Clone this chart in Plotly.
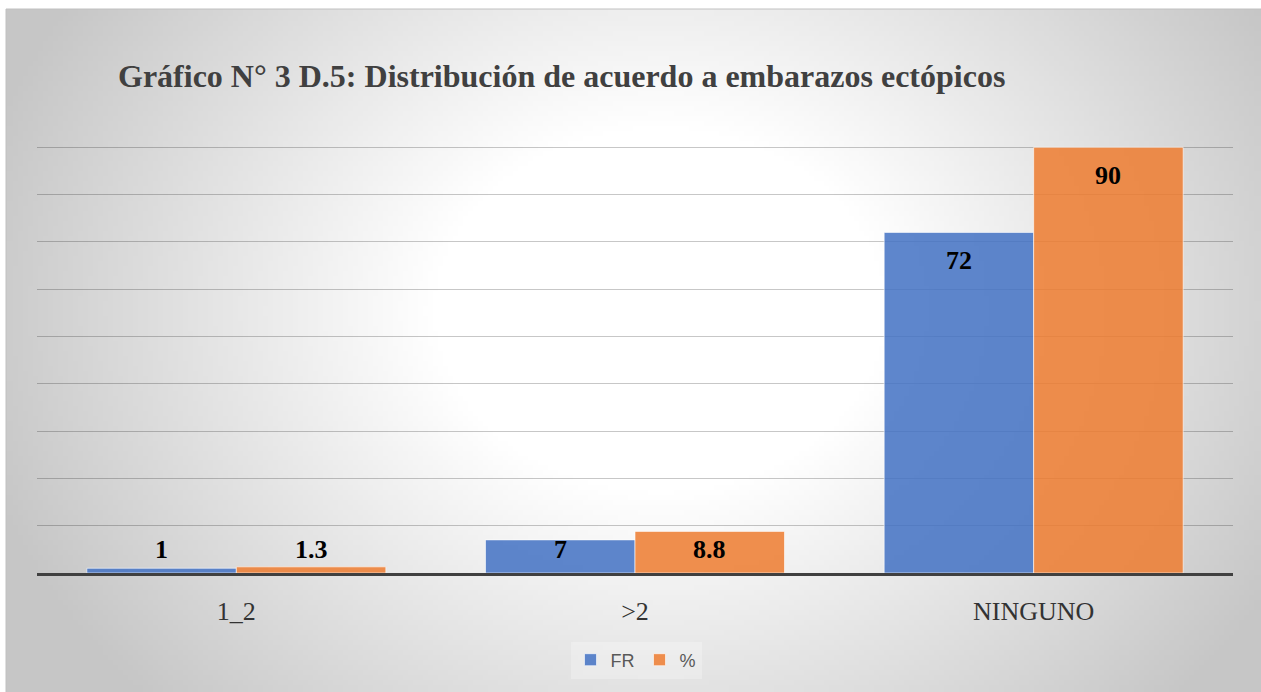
import base64, struct, zlib
import numpy as np
import plotly.graph_objects as go

categories = ["1_2", ">2", "NINGUNO"]
fr_values = [1, 7, 72]
pct_values = [1.3, 8.8, 90]
fr_labels = ["1", "7", "72"]
pct_labels = ["1.3", "8.8", "90"]
title_text = "Gráfico N° 3 D.5: Distribución de acuerdo a embarazos ectópicos"

W, H = 1261, 692
ML, MR, MT, MB = 37, 28, 100, 119
PW, PH = W - ML - MR, H - MT - MB


def px_to_paper_x(px):
    return (px - ML) / PW


def px_to_paper_y(py):
    return (H - MB - py) / PH


# radial grey background gradient as a small png
def make_png(arr):
    h, w = arr.shape
    raw = b"".join(b"\x00" + bytes(arr[r].tolist()) for r in range(h))

    def chunk(tag, data):
        return (struct.pack(">I", len(data)) + tag + data +
                struct.pack(">I", zlib.crc32(tag + data) & 0xFFFFFFFF))

    ihdr = struct.pack(">IIBBBBB", w, h, 8, 0, 0, 0, 0)
    return (b"\x89PNG\r\n\x1a\n" + chunk(b"IHDR", ihdr) +
            chunk(b"IDAT", zlib.compress(raw, 9)) + chunk(b"IEND", b""))


fx0, fy0 = 6, 9
gw, gh = 251, 137
xs = fx0 + (np.arange(gw) + 0.5) * (W - fx0) / gw
ys = fy0 + (np.arange(gh) + 0.5) * (H - fy0) / gh
X, Y = np.meshgrid(xs, ys)
r = np.sqrt(((X - 660) / 640) ** 2 + ((Y - 310) / 520) ** 2)
t = np.clip((r - 0.35) / 0.75, 0, 1)
img = np.round(255 - 57 * t).astype(np.uint8)
bg_src = "data:image/png;base64," + base64.b64encode(make_png(img)).decode()

fig = go.Figure()
fig.add_trace(go.Bar(
    name="FR", x=categories, y=fr_values,
    marker=dict(color="rgba(68,114,196,0.86)",
                line=dict(color="rgba(255,255,255,0.6)", width=1)),
    hoverinfo="x+y",
))
fig.add_trace(go.Bar(
    name="%", x=categories, y=pct_values,
    marker=dict(color="rgba(237,125,49,0.86)",
                line=dict(color="rgba(255,255,255,0.6)", width=1)),
    hoverinfo="x+y",
))

bargap = 0.25
bw = (1 - bargap) / 2
annotations = []
for i in range(len(categories)):
    for off, vals, labs in ((-bw / 2, fr_values, fr_labels), (bw / 2, pct_values, pct_labels)):
        annotations.append(dict(
            x=i + off, y=max(vals[i], 11), xref="x", yref="y",
            text="<b>" + labs[i] + "</b>", showarrow=False,
            yanchor="top", xanchor="center", yshift=-12,
            font=dict(family="Liberation Serif", size=26, color="#000000"),
        ))

fig.update_layout(
    width=W, height=H,
    margin=dict(l=ML, r=MR, t=MT, b=MB, pad=0),
    paper_bgcolor="white",
    plot_bgcolor="rgba(0,0,0,0)",
    barmode="group", bargap=bargap, bargroupgap=0,
    title=dict(text="<b>" + title_text + "</b>", x=118 / W, xanchor="left",
               xref="container", y=1 - 76 / H, yanchor="middle", yref="container",
               font=dict(family="Liberation Serif", size=32, color="#404040")),
    xaxis=dict(showline=True, linecolor="#404040", linewidth=3,
               ticks="", ticklabelstandoff=13,
               tickfont=dict(family="Liberation Serif", size=26, color="#333333"),
               showgrid=False),
    yaxis=dict(range=[0, 100], dtick=10, showticklabels=False, zeroline=False,
               showgrid=True, gridcolor="rgba(0,0,0,0.22)", gridwidth=1, ticks=""),
    legend=dict(orientation="h", x=px_to_paper_x(636), xanchor="center",
                y=px_to_paper_y(660), yanchor="middle",
                font=dict(family="Liberation Sans", size=18, color="#595959"),
                bgcolor="rgba(255,255,255,0.25)", itemwidth=30,
                tracegroupgap=0),
    images=[dict(source=bg_src, xref="paper", yref="paper",
                 x=px_to_paper_x(fx0), y=px_to_paper_y(fy0),
                 sizex=(W - fx0) / PW, sizey=(H - fy0) / PH,
                 sizing="stretch", xanchor="left", yanchor="top", layer="below")],
    shapes=[dict(type="rect", xref="paper", yref="paper",
                 x0=px_to_paper_x(fx0), y0=px_to_paper_y(fy0),
                 x1=px_to_paper_x(W + 5), y1=px_to_paper_y(H + 5),
                 line=dict(color="#c0c0c0", width=1), fillcolor="rgba(0,0,0,0)",
                 layer="below")],
    annotations=annotations,
    showlegend=True,
)

fig.write_html(
    "out.html",
    config={"displayModeBar": False},
    post_script="document.body.style.margin='0';document.body.style.overflow='hidden';",
)
